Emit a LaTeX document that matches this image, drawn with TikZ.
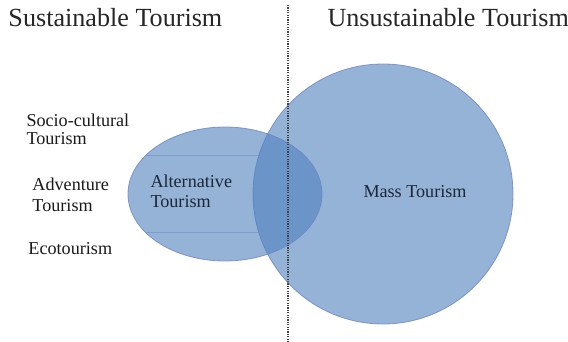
\documentclass[tikz,border=0pt]{standalone}
\usepackage{fontspec}
\setmainfont{Liberation Serif}
\definecolor{venblue}{RGB}{79,129,189}
\definecolor{venedge}{RGB}{110,130,200}
\definecolor{venrule}{RGB}{95,140,195}
\definecolor{ventext}{RGB}{28,38,52}
\tikzset{every picture/.style={line width=0.75pt}}
\tikzset{
  venshape/.style={fill=venblue, fill opacity=0.6, draw=venedge, draw opacity=0.8, line width=0.6pt},
  headline/.style={anchor=base west, inner sep=0pt, text=black!85, font=\fontsize{19.6}{24}\selectfont},
  sidelabel/.style={anchor=base west, inner sep=0pt, align=left, text=black!90, font=\fontsize{13.6}{14}\selectfont},
  inlabel/.style={anchor=base west, inner sep=0pt, align=left, text=ventext, font=\fontsize{13.6}{15.2}\selectfont}
}

\begin{document}
\begin{tikzpicture}[x=0.75pt,y=0.75pt,yscale=-1,xscale=1]
\useasboundingbox (0,0) rectangle (568,342);

%Shape: Circle [id:mass] 
\draw [venshape] (383,194) circle [radius=130];
%Shape: Ellipse [id:alternative] 
\draw [venshape] (225,194) ellipse [x radius=97, y radius=67];
%Straight Lines [id:rowA] 
\draw [color=venrule, draw opacity=0.5, line width=0.5pt] (146,155) -- (259,155) ;
%Straight Lines [id:rowB] 
\draw [color=venrule, draw opacity=0.5, line width=0.5pt] (145,232) -- (258.7,232) ;
%Straight Lines [id:divider] 
\draw [color=black!75, line width=1.1pt, dash pattern={on 0.9pt off 0.9pt}] (288,5) -- (288,342) ;

%Titles
\draw (8,27) node [headline] (sust) {Sustainable Tourism};
\draw (327,27) node [headline] (unsust) {Unsustainable Tourism};

%Side labels
\draw (26,145) node [sidelabel] (socio) {Socio-cultural\\Tourism};
\draw (32,212) node [sidelabel, font=\fontsize{13.6}{16}\selectfont] (advent) {Adventure\\Tourism};
\draw (28,255) node [sidelabel] (eco) {Ecotourism};

%Labels in shapes
\draw (150,208) node [inlabel] (alt) {Alternative\\Tourism};
\draw (363,198) node [inlabel] (mass) {Mass Tourism};

\end{tikzpicture}
\end{document}
